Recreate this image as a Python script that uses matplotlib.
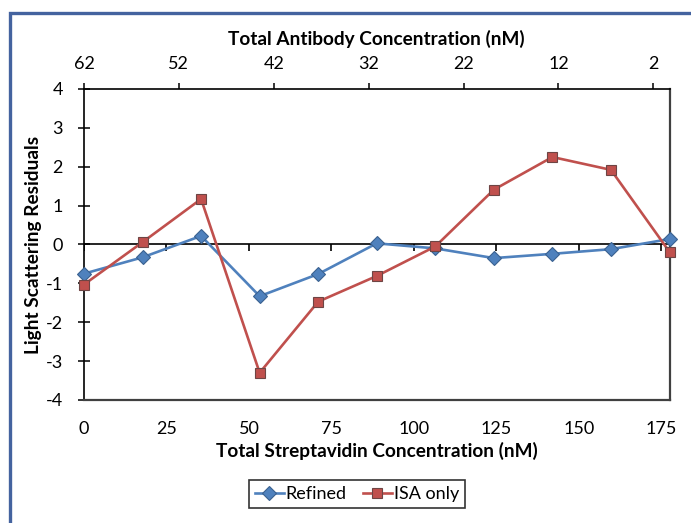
import matplotlib.pyplot as plt
from matplotlib.patches import Rectangle

plt.rcParams['font.family'] = ['Lato', 'DejaVu Sans']
plt.rcParams['axes.unicode_minus'] = False

# streptavidin titration points (nM) and fit residuals
strep = [0, 17.75, 35.5, 53.25, 71.0, 88.75, 106.5, 124.25, 142.0, 159.75, 177.5]
refined = [-0.75, -0.33, 0.22, -1.33, -0.76, 0.03, -0.10, -0.35, -0.24, -0.12, 0.14]
isa_only = [-1.03, 0.06, 1.17, -3.30, -1.47, -0.81, -0.05, 1.41, 2.25, 1.92, -0.19]

bottom_ticks = [0, 25, 50, 75, 100, 125, 150, 175]
top_ticks = [62, 52, 42, 32, 22, 12, 2]
y_ticks = [-4, -3, -2, -1, 0, 1, 2, 3, 4]

W, H = 691, 523
fig = plt.figure(figsize=(W / 100, H / 100), dpi=100)
ax = fig.add_axes([84 / W, 1 - 400 / H, (669.5 - 84) / W, (400 - 89) / H])

blue = '#4F81BD'
red = '#C0504D'

ax.plot(strep, refined, color=blue, lw=1.9, marker='D', ms=7.5,
        mfc=blue, mec='#3A6190', mew=0.8, label='Refined', clip_on=False, zorder=3)
ax.plot(strep, isa_only, color=red, lw=1.9, marker='s', ms=7,
        mfc=red, mec='#6E4544', mew=0.8, label='ISA only', clip_on=False, zorder=4)

ax.set_xlim(0, 177.5)
ax.set_ylim(-4, 4)

# horizontal axis drawn through zero, labels kept along the bottom
ax.axhline(0, color='black', lw=1.2, zorder=2)
ax.vlines(bottom_ticks, -0.16, 0, color='black', lw=1.2, zorder=2)
ax.set_xticks(bottom_ticks)
ax.tick_params(axis='x', length=0, pad=15, labelsize=13)
ax.set_yticks(y_ticks)
ax.tick_params(axis='y', direction='inout', length=8.5, width=1.1, pad=11, labelsize=13)

for side in ['bottom', 'right']:
    ax.spines[side].set_color('#404040')
    ax.spines[side].set_linewidth(1.6)
ax.spines['left'].set_linewidth(1.2)
ax.spines['top'].set_linewidth(1.2)

ax.set_xlabel('Total Streptavidin Concentration (nM)', fontsize=13.7, fontweight='bold', labelpad=4)
ax.set_ylabel('Light Scattering Residuals', fontsize=13.7, fontweight='bold')
ax.yaxis.set_label_coords(-42 / 585.5, 0.5)

# antibody concentration runs the opposite way along the top
top = ax.twiny()
top.set_xlim(62, 0.3)
top.set_xticks(top_ticks)
top.tick_params(axis='x', direction='out', length=4.5, width=1.1, pad=8, labelsize=13)
top.set_xlabel('Total Antibody Concentration (nM)', fontsize=13.7, fontweight='bold', labelpad=8)
for s in top.spines.values():
    s.set_visible(False)

fig.legend(loc='center', bbox_to_anchor=(357 / W, 1 - 494 / H), ncol=2,
           fontsize=13, frameon=True, fancybox=False, edgecolor='black',
           handlelength=1.6, handletextpad=0.1, columnspacing=0.9,
           borderpad=0.35).get_frame().set_linewidth(1.2)

# outer chart frame, running off the right and bottom edges
fig.patches.append(Rectangle((9.5 / W, -0.1), 1.2, 1 - 13.5 / H + 0.1,
                             transform=fig.transFigure, fill=False,
                             edgecolor='#44639F', lw=2.4))

fig.savefig('out.png', dpi=100)
